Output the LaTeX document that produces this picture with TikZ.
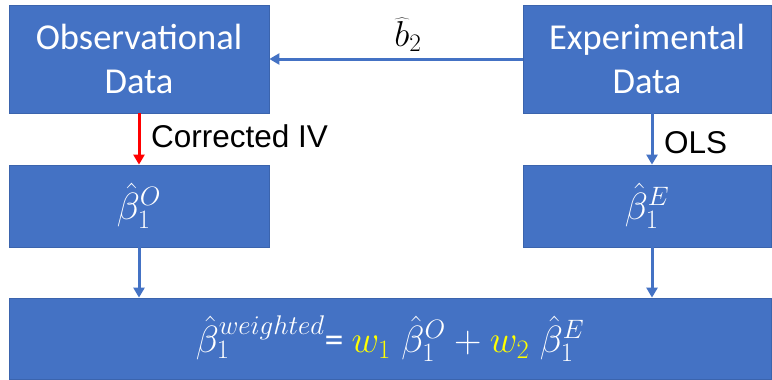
\documentclass[tikz,border=0pt]{standalone}
\usepackage{fix-cm}
\usepackage{fontspec}
\setmainfont{Carlito}
\newfontfamily\arialfont{Liberation Sans}
\usetikzlibrary{arrows.meta}
\definecolor{boxblue}{HTML}{4472C4}
\definecolor{boxedge}{HTML}{3B64AD}
\definecolor{wyellow}{HTML}{FFFF00}
\tikzset{
  databox/.style={draw=boxedge, line width=0.8pt, fill=boxblue, text=white, align=center, inner sep=0pt,
    font=\fontsize{36.5}{44.5}\selectfont},
  mathbox/.style={databox, font=\fontsize{38}{44}\selectfont},
  conn/.style={draw=boxblue, line width=3pt, -{Triangle[length=10pt,width=11pt]}},
  redconn/.style={draw=red, line width=3pt, -{Triangle[length=10pt,width=11pt]}},
  lbl/.style={font=\arialfont\fontsize{31.5}{36}\selectfont, text=black, inner sep=0pt}
}
\newcommand{\supw}{\mbox{\fontsize{27}{27}\selectfont$weighted$}}
\begin{document}
\begin{tikzpicture}[x=1pt,y=-1pt]
\useasboundingbox (0,0) rectangle (772,380);
\node[databox, minimum width=260pt, minimum height=108pt] (obs) at (139,59) {Observational\\Data};
\node[databox, minimum width=248pt, minimum height=108pt] (exp) at (647,59) {Experimental\\Data};
\node[mathbox, minimum width=260pt, minimum height=82pt] (bo) at (139,206) {$\hat{\beta}_1^{O}$};
\node[mathbox, minimum width=248pt, minimum height=82pt] (be) at (647,206) {$\hat{\beta}_1^{E}$};
\node[mathbox, minimum width=762pt, minimum height=81pt] (bw) at (390,338.5)
  {$\hat{\beta}_1^{\supw}$=\hspace{8pt}$\textcolor{wyellow}{w_1}\;\hat{\beta}_1^{O}+\textcolor{wyellow}{w_2}\;\hat{\beta}_1^{E}$};
\draw[conn] (exp.west |- 0,59) -- (obs.east |- 0,59) node[midway, above=6pt, xshift=12pt, font=\fontsize{36}{40}\selectfont, text=black, inner sep=0pt] (b2) {$\widehat{b}_2$};
\draw[redconn] (obs.south) -- (bo.north);
\node[lbl, anchor=west] (civ) at (151,136) {Corrected IV};
\draw[conn] ([xshift=5pt]exp.south) -- ([xshift=5pt]be.north);
\node[lbl, anchor=west] (ols) at (664,143) {OLS};
\draw[conn] (bo.south) -- (bo.south |- bw.north);
\draw[conn] ([xshift=5pt]be.south) -- ([xshift=5pt]be.south |- bw.north);
\end{tikzpicture}
\end{document}
